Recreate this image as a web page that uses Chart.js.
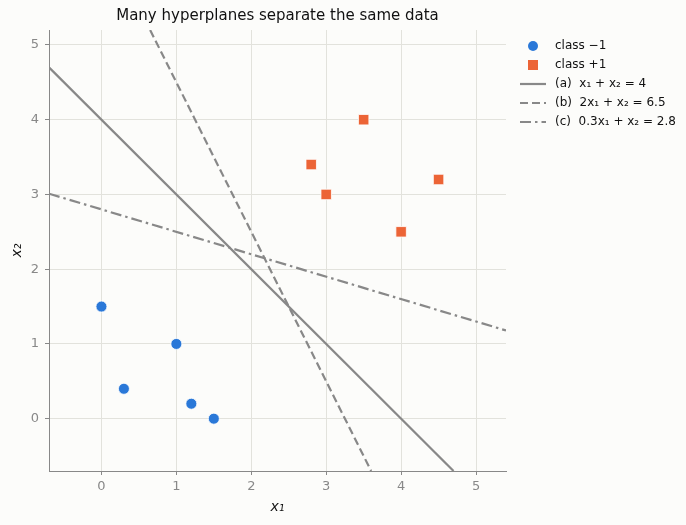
<!DOCTYPE html>
<html>
<head>
<meta charset="utf-8">
<script src="https://cdn.jsdelivr.net/npm/chart.js@4.4.1/dist/chart.umd.min.js"></script>
<style>
  html, body { margin: 0; padding: 0; background: #fcfcfa; }
  #wrap { width: 686px; height: 525px; }
</style>
</head>
<body>
<div id="wrap"><canvas id="myChart" width="686" height="525"></canvas></div>
<script>
// class -1 points
const negX = [0, 0.3, 1, 1.2, 1.5];
const negY = [1.5, 0.4, 1, 0.2, 0];
// class +1 points
const posX = [2.8, 3, 3.5, 4, 4.5];
const posY = [3.4, 3, 4, 2.5, 3.2];

// hyperplane end points, read where each line leaves the axes
const lineAX = [-0.7, 4.7];
const lineAY = [4.7, -0.7];
const lineBX = [0.65, 3.6];
const lineBY = [5.2, -0.7];
const lineCX = [-0.7, 5.4];
const lineCY = [3.01, 1.18];

const xTicks = [0, 1, 2, 3, 4, 5];
const yTicks = [0, 1, 2, 3, 4, 5];

const title = 'Many hyperplanes separate the same data';
const labels = ['class \u22121', 'class +1', '(a)  x\u2081 + x\u2082 = 4', '(b)  2x\u2081 + x\u2082 = 6.5', '(c)  0.3x\u2081 + x\u2082 = 2.8'];

const blue = '#2a78d8';
const orange = '#ec6436';
const gray = '#888888';
const font = 'DejaVu Sans';

const toPoints = (xs, ys) => xs.map((x, i) => ({ x, y: ys[i] }));

const lineSet = (label, xs, ys, dash) => ({
  type: 'line',
  label,
  data: toPoints(xs, ys),
  borderColor: gray,
  borderWidth: 2.2,
  borderDash: dash,
  pointRadius: 0,
  fill: false,
  tension: 0
});

const background = {
  id: 'background',
  beforeDraw(chart) {
    const ctx = chart.ctx;
    ctx.save();
    ctx.fillStyle = '#fcfcfa';
    ctx.fillRect(0, 0, chart.width, chart.height);
    ctx.restore();
  }
};

// title centred over the axes, legend to the right of the plot
const decorations = {
  id: 'decorations',
  afterDraw(chart) {
    const ctx = chart.ctx;
    const area = chart.chartArea;
    ctx.save();
    ctx.font = '15px "' + font + '"';
    ctx.fillStyle = '#111';
    ctx.textAlign = 'center';
    ctx.textBaseline = 'middle';
    ctx.fillText(title, (area.left + area.right) / 2, 16);

    const x0 = 520, y0 = 46, gap = 19;
    ctx.font = '12px "' + font + '"';
    ctx.textAlign = 'left';
    chart.data.datasets.forEach((ds, i) => {
      const y = y0 + i * gap;
      if (ds.type === 'line') {
        ctx.strokeStyle = ds.borderColor;
        ctx.lineWidth = 2.2;
        ctx.setLineDash(ds.borderDash || []);
        ctx.beginPath();
        ctx.moveTo(x0, y);
        ctx.lineTo(x0 + 26, y);
        ctx.stroke();
        ctx.setLineDash([]);
      } else {
        ctx.fillStyle = ds.backgroundColor;
        if (ds.pointStyle === 'rect') {
          ctx.fillRect(x0 + 8, y - 5, 10, 10);
        } else {
          ctx.beginPath();
          ctx.arc(x0 + 13, y, 5, 0, Math.PI * 2);
          ctx.fill();
        }
      }
      ctx.fillStyle = '#111';
      ctx.fillText(ds.label, x0 + 35, y);
    });
    ctx.restore();
  }
};

const axisTitle = (text) => ({
  display: true,
  text,
  color: '#111',
  font: { family: font, size: 14, style: 'italic' },
  padding: { top: 9, bottom: 9 }
});

new Chart(document.getElementById('myChart'), {
  type: 'scatter',
  data: {
    datasets: [
      {
        label: labels[0],
        data: toPoints(negX, negY),
        backgroundColor: blue,
        borderColor: '#ffffff',
        borderWidth: 0.8,
        pointStyle: 'circle',
        pointRadius: 5.5,
        order: 0
      },
      {
        label: labels[1],
        data: toPoints(posX, posY),
        backgroundColor: orange,
        borderColor: '#ffffff',
        borderWidth: 0.8,
        pointStyle: 'rect',
        pointRadius: 7.4,
        order: 0
      },
      lineSet(labels[2], lineAX, lineAY, []),
      lineSet(labels[3], lineBX, lineBY, [8, 4]),
      lineSet(labels[4], lineCX, lineCY, [11, 4, 2.5, 4])
    ]
  },
  options: {
    responsive: false,
    animation: false,
    layout: { padding: { left: 0, right: 180, top: 30, bottom: 0 } },
    plugins: {
      legend: { display: false },
      tooltip: { enabled: false },
      title: { display: false }
    },
    scales: {
      x: {
        type: 'linear',
        min: -0.7,
        max: 5.4,
        afterBuildTicks: (scale) => { scale.ticks = xTicks.map(v => ({ value: v })); },
        afterFit: (scale) => { scale.height = 54; },
        ticks: { color: gray, font: { family: font, size: 13 }, padding: 4 },
        grid: { color: '#e2e2dc', lineWidth: 1, tickColor: gray, tickLength: 4 },
        border: { color: gray, width: 1 },
        title: axisTitle('x\u2081')
      },
      y: {
        type: 'linear',
        min: -0.7,
        max: 5.2,
        afterBuildTicks: (scale) => { scale.ticks = yTicks.map(v => ({ value: v })); },
        afterFit: (scale) => { scale.width = 49; },
        ticks: { color: gray, font: { family: font, size: 13 }, padding: 6 },
        grid: { color: '#e2e2dc', lineWidth: 1, tickColor: gray, tickLength: 4 },
        border: { color: gray, width: 1 },
        title: axisTitle('x\u2082')
      }
    }
  },
  plugins: [background, decorations]
});
</script>
</body>
</html>
